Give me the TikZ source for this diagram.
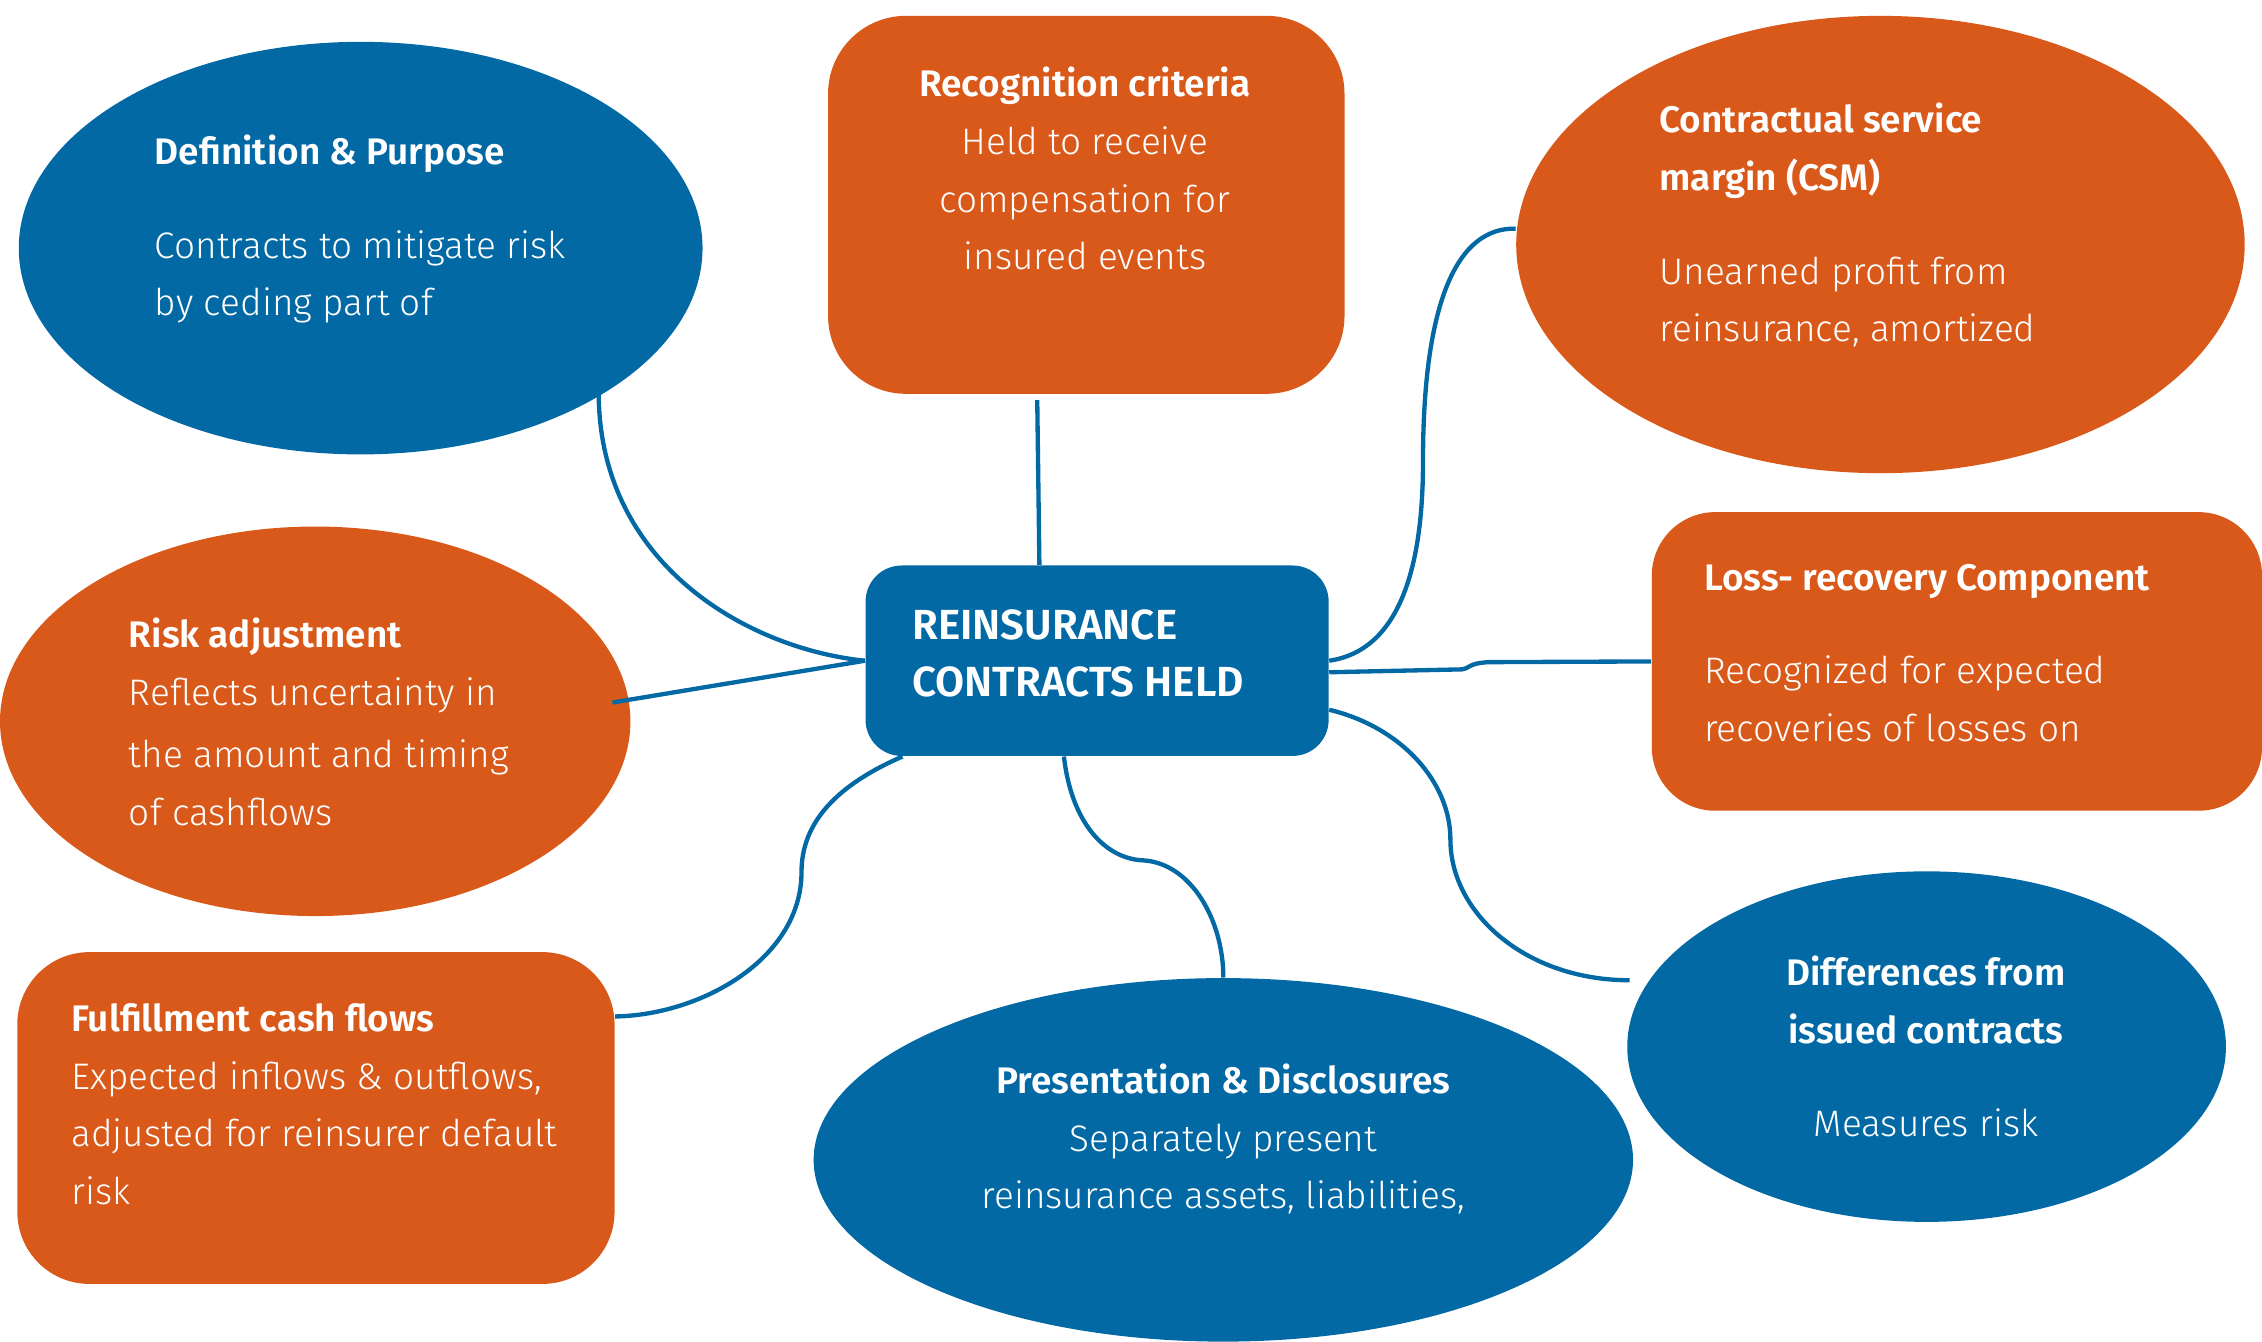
\documentclass[tikz,border=0pt]{standalone}
\usepackage{fontspec}
\setmainfont{Fira Sans}[UprightFont={* Light},BoldFont={* SemiBold}]
\usetikzlibrary{shapes.geometric,calc}
\definecolor{capblue}{RGB}{3,105,165}
\definecolor{caporange}{RGB}{217,89,26}
\tikzset{
  blob/.style={ellipse, inner sep=0pt, fill=#1},
  card/.style={rectangle, inner sep=0pt, fill=#1},
  txt/.style={text=white, inner sep=0pt, font=\fontsize{12.8}{20}\selectfont},
  hub/.style={text=white, inner sep=0pt, font=\fontsize{14.6}{20}\selectfont\bfseries},
  link/.style={draw=capblue, line width=1.5pt},
}
\begin{document}
\begin{tikzpicture}[x=0.5pt,y=-0.5pt]
\useasboundingbox (0,0) rectangle (1568,930);

% topic shapes
\node[blob=capblue, minimum width=237pt, minimum height=143pt] (def) at (250,172) {};
\node[card=caporange, rounded corners=27pt, minimum width=179pt, minimum height=131pt] (rec) at (753,142) {};
\node[blob=caporange, minimum width=252.5pt, minimum height=158.5pt] (csm) at (1303.5,169.5) {};
\node[card=caporange, rounded corners=22pt, minimum width=211.5pt, minimum height=103.5pt] (loss) at (1356.5,458.5) {};
\node[card=capblue, rounded corners=12.5pt, minimum width=160.5pt, minimum height=66pt] (hub) at (760.5,458) {};
\node[blob=caporange, minimum width=218.5pt, minimum height=135pt] (risk) at (218.5,500) {};
\node[card=caporange, rounded corners=25pt, minimum width=207pt, minimum height=115pt] (ful) at (219,775) {};
\node[blob=capblue, minimum width=284pt, minimum height=126pt] (pres) at (848,804) {};
\node[blob=capblue, minimum width=207.5pt, minimum height=121.5pt] (diff) at (1335.5,725.5) {};

% connectors
\draw[link] ($(def.center)+(165,100)$) .. controls ($(def.center)+(165,220)$) and ($(hub.west)+(-80,-8)$) .. (hub.west);
\draw[link] ($(rec.south)+(-34,4)$) -- ($(hub.north)+(-40,0)$);
\draw[link] ($(hub.east)+(0,0)$) .. controls ($(hub.east)+(55,-8)$) and ($(hub.east)+(65,-80)$) .. ($(hub.east)+(65,-138)$)
  .. controls ($(hub.east)+(65,-250)$) and ($(csm.west)+(-40,-12)$) .. ($(csm.west)+(0,-11)$);
\draw[link] ($(hub.east)+(0,8)$) -- ($(hub.east)+(92,6)$) .. controls ($(hub.east)+(98,5)$) and ($(hub.east)+(96,2)$) .. ($(hub.east)+(110,1)$) -- ($(loss.west)+(0,0)$);
\draw[link] ($(risk.center)+(206,-13)$) -- (hub.west);
\draw[link] ($(hub.south west)+(26,0)$) .. controls ($(hub.south west)+(-20,20)$) and ($(hub.south west)+(-44,46)$) .. ($(hub.south west)+(-44,80)$)
  .. controls ($(hub.south west)+(-44,140)$) and ($(ful.north east)+(60,44)$) .. ($(ful.north east)+(0,45)$);
\draw[link] ($(hub.south)+(-23,0)$) .. controls ($(hub.south)+(-18,45)$) and ($(hub.south)+(5,71)$) .. ($(hub.south)+(32,72)$)
  .. controls ($(hub.south)+(65,74)$) and ($(pres.north)+(0,-40)$) .. (pres.north);
\draw[link] ($(hub.east)+(0,34)$) .. controls ($(hub.east)+(50,46)$) and ($(hub.east)+(84,84)$) .. ($(hub.east)+(84,124)$)
  .. controls ($(hub.east)+(84,175)$) and ($(diff.west)+(-70,-46)$) .. ($(diff.west)+(2,-46)$);

% texts (anchored on the baseline of the last line)
\node[txt, anchor=base west, align=left] at (107,219)
  {\textbf{Definition \& Purpose}\\[12.5pt]Contracts to mitigate risk\\by ceding part of};
\node[txt, anchor=base, align=center] at (752,187)
  {\textbf{Recognition criteria}\\Held to receive\\compensation for\\insured events};
\node[txt, anchor=base west, align=left] at (1150,237)
  {\textbf{Contractual service}\\\textbf{margin (CSM)}\\[12.5pt]Unearned profit from\\reinsurance, amortized};
\node[txt, anchor=base west, align=left] at (1181,514)
  {\textbf{Loss- recovery Component}\\[12.5pt]Recognized for expected\\recoveries of losses on};
\node[hub, anchor=base west, align=left] at (632,483)
  {REINSURANCE\\CONTRACTS HELD};
\node[txt, anchor=base west, align=left] at (89,572)
  {\textbf{Risk adjustment}\\Reflects uncertainty in\\[1.5pt]the amount and timing\\of cashflows};
\node[txt, anchor=base west, align=left] at (49,835)
  {\textbf{Fulfillment cash flows}\\Expected inflows \& outflows,\\adjusted for reinsurer default\\risk};
\node[txt, anchor=base, align=center] at (848,838)
  {\textbf{Presentation \& Disclosures}\\Separately present\\reinsurance assets, liabilities,};
\node[txt, anchor=base, align=center] at (1335,788)
  {\textbf{Differences from}\\\textbf{issued contracts}\\[12.5pt]Measures risk};
\end{tikzpicture}
\end{document}
